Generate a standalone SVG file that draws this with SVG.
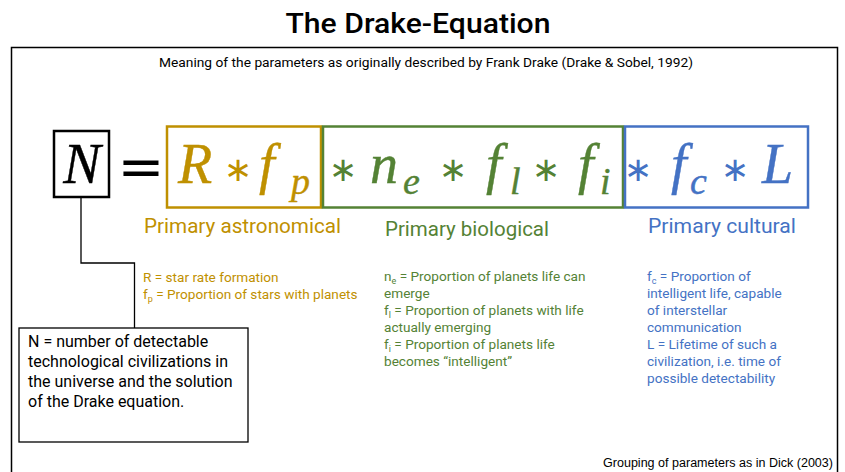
<svg xmlns="http://www.w3.org/2000/svg" width="845" height="472" viewBox="0 0 845 472">
<style>
.t{font-family:Roboto,"DejaVu Sans",sans-serif}
.m{font-family:"Liberation Serif","Times New Roman",serif;font-style:italic;stroke-width:0.4}
.op{font-family:"DejaVu Sans",sans-serif}
.gold{fill:#BF9000}
.green{fill:#548235}
.blue{fill:#4472C4}
.m.gold{stroke:#BF9000}
.m.green{stroke:#548235}
.m.blue{stroke:#4472C4}
.desc{font-size:13.6px}
</style>
<rect width="845" height="472" fill="#fff"/>
<text class="t" x="418" y="33" font-size="28" font-weight="500" text-anchor="middle" textLength="265" lengthAdjust="spacingAndGlyphs">The Drake-Equation</text>
<rect x="11.5" y="47.5" width="826" height="440" fill="none" stroke="#000" stroke-width="1.5"/>
<text class="t" x="159" y="67" font-size="12.5" textLength="534" lengthAdjust="spacingAndGlyphs">Meaning of the parameters as originally described by Frank Drake (Drake &amp; Sobel, 1992)</text>

<g id="connectors" fill="none" stroke="#000" stroke-width="1.3">
<polyline points="81,197 81,263 134.5,263 134.5,328"/>
</g>

<g id="nodeN">
<rect x="54" y="131" width="55" height="66" fill="#fff" stroke="#000" stroke-width="2.5"/>
<text class="m" x="82" y="183" font-size="56" text-anchor="middle" stroke="#000">N</text>
</g>
<text class="op" x="141" y="186" font-size="56" text-anchor="middle">=</text>

<g id="astronomical">
<rect x="167" y="126.5" width="154" height="81" fill="none" stroke="#BF9000" stroke-width="2.5"/>
<text class="m gold" y="183" font-size="56"><tspan x="178">R</tspan></text>
<text class="op gold" x="238" y="181" font-size="34" text-anchor="middle">∗</text>
<text class="m gold" y="183" font-size="56"><tspan x="259">f</tspan><tspan x="291" y="194" font-size="38">p</tspan></text>
<text class="t gold" x="144" y="233" font-size="21" textLength="197" lengthAdjust="spacingAndGlyphs">Primary astronomical</text>
<text class="t gold desc" x="143" y="282">R = star rate formation</text>
<text class="t gold desc" x="143" y="299">f<tspan font-size="9" dy="3">p</tspan><tspan dy="-3"> = Proportion of stars with planets</tspan></text>
</g>

<g id="biological">
<rect x="323" y="126.5" width="300" height="81" fill="none" stroke="#548235" stroke-width="2.5"/>
<text class="op green" x="343" y="181" font-size="34" text-anchor="middle">∗</text>
<text class="m green" y="183" font-size="56"><tspan x="370">n</tspan><tspan x="403" y="194" font-size="38">e</tspan></text>
<text class="op green" x="453" y="181" font-size="34" text-anchor="middle">∗</text>
<text class="m green" y="183" font-size="56"><tspan x="486">f</tspan><tspan x="510" y="194" font-size="38">l</tspan></text>
<text class="op green" x="546" y="181" font-size="34" text-anchor="middle">∗</text>
<text class="m green" y="183" font-size="56"><tspan x="578">f</tspan><tspan x="600" y="194" font-size="38">i</tspan></text>
<text class="t green" x="385" y="236" font-size="21" textLength="164" lengthAdjust="spacingAndGlyphs">Primary biological</text>
<text class="t green desc" x="384" y="281">n<tspan font-size="9" dy="3">e</tspan><tspan dy="-3"> = Proportion of planets life can</tspan></text>
<text class="t green desc" x="384" y="298">emerge</text>
<text class="t green desc" x="384" y="315">f<tspan font-size="9" dy="3">l</tspan><tspan dy="-3"> = Proportion of planets with life</tspan></text>
<text class="t green desc" x="384" y="332">actually emerging</text>
<text class="t green desc" x="384" y="349">f<tspan font-size="9" dy="3">i</tspan><tspan dy="-3"> = Proportion of planets life</tspan></text>
<text class="t green desc" x="384" y="366">becomes “intelligent”</text>
</g>

<g id="cultural">
<rect x="625" y="126.5" width="183" height="81" fill="none" stroke="#4472C4" stroke-width="2.5"/>
<text class="op blue" x="638" y="181" font-size="34" text-anchor="middle">∗</text>
<text class="m blue" y="183" font-size="56"><tspan x="671">f</tspan><tspan x="690" y="194" font-size="38">c</tspan></text>
<text class="op blue" x="735" y="181" font-size="34" text-anchor="middle">∗</text>
<text class="m blue" y="183" font-size="56"><tspan x="762">L</tspan></text>
<text class="t blue" x="648" y="233" font-size="21" textLength="148" lengthAdjust="spacingAndGlyphs">Primary cultural</text>
<text class="t blue desc" x="647" y="281">f<tspan font-size="9" dy="3">c</tspan><tspan dy="-3"> = Proportion of</tspan></text>
<text class="t blue desc" x="647" y="298">intelligent life, capable</text>
<text class="t blue desc" x="647" y="315">of interstellar</text>
<text class="t blue desc" x="647" y="332">communication</text>
<text class="t blue desc" x="647" y="349">L = Lifetime of such a</text>
<text class="t blue desc" x="647" y="366">civilization, i.e. time of</text>
<text class="t blue desc" x="647" y="383">possible detectability</text>
</g>

<g id="nDescription">
<rect x="19" y="328" width="229" height="114" fill="#fff" stroke="#000" stroke-width="1.3"/>
<text class="t" font-size="16" fill="#000">
<tspan x="28" y="347">N = number of detectable</tspan>
<tspan x="28" y="367">technological civilizations in</tspan>
<tspan x="28" y="387">the universe and the solution</tspan>
<tspan x="28" y="407">of the Drake equation.</tspan>
</text>
</g>

<text x="833" y="467" font-family="'Liberation Sans',Arial,sans-serif" font-size="12.5" text-anchor="end" textLength="230" lengthAdjust="spacingAndGlyphs">Grouping of parameters as in Dick (2003)</text>
</svg>
